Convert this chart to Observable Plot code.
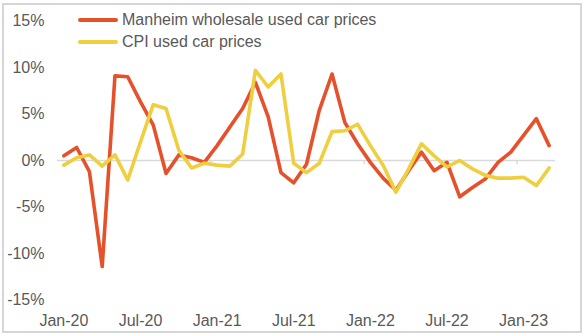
<!DOCTYPE html>
<html>
<head>
<meta charset="utf-8">
<script src="https://cdn.jsdelivr.net/npm/d3@7"></script>
<script src="https://cdn.jsdelivr.net/npm/@observablehq/plot@0.6"></script>
<style>
  body { margin: 0; background: #fff; font-family: "Liberation Sans", Arial, sans-serif; }
  #wrap { position: relative; width: 584px; height: 336px; }
  #frame { position: absolute; left: 2px; top: 3px; width: 576px; height: 326px; border: 2px solid #d6d6d6; box-sizing: content-box; pointer-events: none; }
  #legend { position: absolute; left: 78px; top: 9px; font-size: 16px; color: #595959; line-height: 22px; }
  .item { display: flex; align-items: center; height: 22px; }
  .sw { width: 40px; height: 4px; margin-right: 4px; border-radius: 2px; }
</style>
</head>
<body>
<div id="wrap">
  <div id="chart"></div>
  <div id="legend"></div>
  <div id="frame"></div>
</div>
<script>
const months = ["Jan-20","Feb-20","Mar-20","Apr-20","May-20","Jun-20","Jul-20","Aug-20","Sep-20","Oct-20","Nov-20","Dec-20",
  "Jan-21","Feb-21","Mar-21","Apr-21","May-21","Jun-21","Jul-21","Aug-21","Sep-21","Oct-21","Nov-21","Dec-21",
  "Jan-22","Feb-22","Mar-22","Apr-22","May-22","Jun-22","Jul-22","Aug-22","Sep-22","Oct-22","Nov-22","Dec-22",
  "Jan-23","Feb-23","Mar-23"];
const manheim = [0.5, 1.4, -1.2, -11.4, 9.1, 9.0, 6.3, 3.8, -1.4, 0.6, 0.3, -0.2,
  1.6, 3.6, 5.6, 8.4, 4.7, -1.3, -2.4, -0.4, 5.4, 9.3, 4.1, 1.8,
  -0.2, -1.9, -3.2, -1.1, 0.9, -1.1, -0.2, -3.9, -2.9, -2.0, -0.2, 0.9,
  2.7, 4.5, 1.6];
const cpi = [-0.5, 0.3, 0.6, -0.6, 0.6, -2.1, 2.0, 6.0, 5.6, 1.1, -0.8, -0.3,
  -0.5, -0.6, 0.7, 9.7, 7.9, 9.3, -0.3, -1.3, -0.3, 3.1, 3.2, 3.9,
  1.6, -0.5, -3.4, -0.9, 1.8, 0.5, -0.7, 0.0, -0.9, -1.6, -1.9, -1.9,
  -1.8, -2.7, -0.8];
const yTicks = [-15, -10, -5, 0, 5, 10, 15];
const seriesNames = ["Manheim wholesale used car prices", "CPI used car prices"];
const colors = ["#e5512b", "#efcf3f"];

const data = [];
months.forEach((m, i) => {
  data.push({i, month: m, value: manheim[i], series: seriesNames[0]});
  data.push({i, month: m, value: cpi[i], series: seriesNames[1]});
});
const labelIdx = months.map((m, i) => i).filter(i => /^(Jan|Jul)/.test(months[i]));
const yearBounds = months.map((m, i) => i).filter(i => i > 0 && months[i].startsWith("Jan")).map(i => i - 0.5);

const chart = Plot.plot({
  width: 584,
  height: 336,
  marginLeft: 57,
  marginRight: 29,
  marginTop: 20.5,
  marginBottom: 36.5,
  style: {fontFamily: '"Liberation Sans", Arial, sans-serif', fontSize: "16px", color: "#595959", background: "transparent"},
  x: {domain: [-0.5, months.length - 0.5]},
  y: {domain: [-15, 15]},
  color: {domain: seriesNames, range: colors},
  marks: [
    Plot.ruleY([0], {stroke: "#d9d9d9", strokeWidth: 1.5}),
    Plot.ruleX(yearBounds, {y1: 0, y2: -0.45, stroke: "#d9d9d9", strokeWidth: 1.5}),
    Plot.axisY({ticks: yTicks, tickFormat: d => d + "%", tickSize: 0, tickPadding: 13, fill: "#595959", fontSize: 16, label: null}),
    Plot.axisX({ticks: labelIdx, tickFormat: i => months[i], tickSize: 0, tickPadding: 15, fill: "#595959", fontSize: 16, label: null}),
    Plot.line(data, {x: "i", y: "value", z: "series", stroke: "series", strokeWidth: 3.6, strokeLinejoin: "round", strokeLinecap: "round", curve: "linear"})
  ]
});
document.getElementById("chart").appendChild(chart);

const legend = document.getElementById("legend");
seriesNames.forEach((s, k) => {
  const item = document.createElement("div");
  item.className = "item";
  const sw = document.createElement("span");
  sw.className = "sw";
  sw.style.background = colors[k];
  const t = document.createElement("span");
  t.textContent = s;
  item.appendChild(sw);
  item.appendChild(t);
  legend.appendChild(item);
});
</script>
</body>
</html>
